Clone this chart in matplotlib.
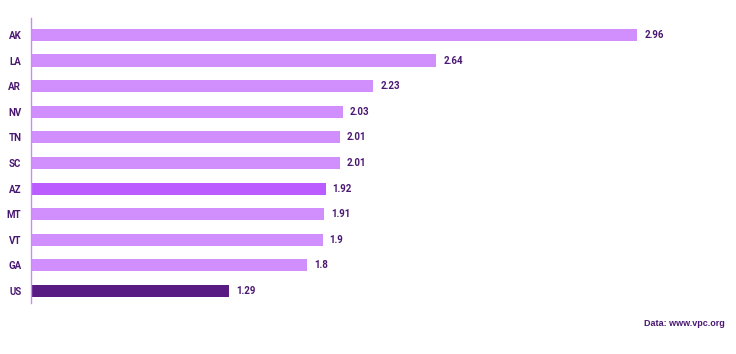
import matplotlib
matplotlib.use("Agg")
import matplotlib.pyplot as plt

# states ranked, top to bottom
states = ["AK", "LA", "AR", "NV", "TN", "SC", "AZ", "MT", "VT", "GA", "US"]
# bar lengths as drawn (the AK bar runs longer than its label says)
values = [3.95, 2.64, 2.23, 2.03, 2.01, 2.01, 1.92, 1.91, 1.9, 1.8, 1.29]
value_labels = ["2.96", "2.64", "2.23", "2.03", "2.01", "2.01", "1.92", "1.91", "1.9", "1.8", "1.29"]
source = "Data: www.vpc.org"

light = "#D18FFD"
highlight = "#BA5CFF"
dark = "#581B84"
text_col = "#4A1872"
axis_col = "#C98BF5"

colors = [light] * len(states)
colors[states.index("AZ")] = highlight
colors[states.index("US")] = dark

plt.rcParams["font.family"] = ["Roboto", "DejaVu Sans"]

fig = plt.figure(figsize=(7.36, 3.54), dpi=100)
ax = fig.add_axes([31 / 736, 51 / 354, 705 / 736, 285 / 354])

pos = list(range(len(states)))
ax.barh(pos, values, height=0.47, color=colors)
ax.set_ylim(10.47, -0.66)
ax.set_xlim(0, 705 / 153.5)

for p, v, lab in zip(pos, values, value_labels):
    ax.text(v + 0.045, p, lab, va="center", ha="left", fontsize=7,
            fontweight="bold", color=text_col)

ax.set_yticks(pos)
ax.set_yticklabels(states, fontsize=7, fontweight="bold", color=text_col)
ax.tick_params(axis="y", length=0, pad=7)
ax.set_xticks([])

for s in ["top", "right", "bottom"]:
    ax.spines[s].set_visible(False)
ax.spines["left"].set_color(axis_col)
ax.spines["left"].set_linewidth(1)

fig.text(725 / 736, 1 - 324 / 354, source, ha="right", va="center",
         fontsize=6.5, fontweight="bold", color=text_col,
         family=["Liberation Sans", "DejaVu Sans"])

fig.savefig("out.png", dpi=100)
